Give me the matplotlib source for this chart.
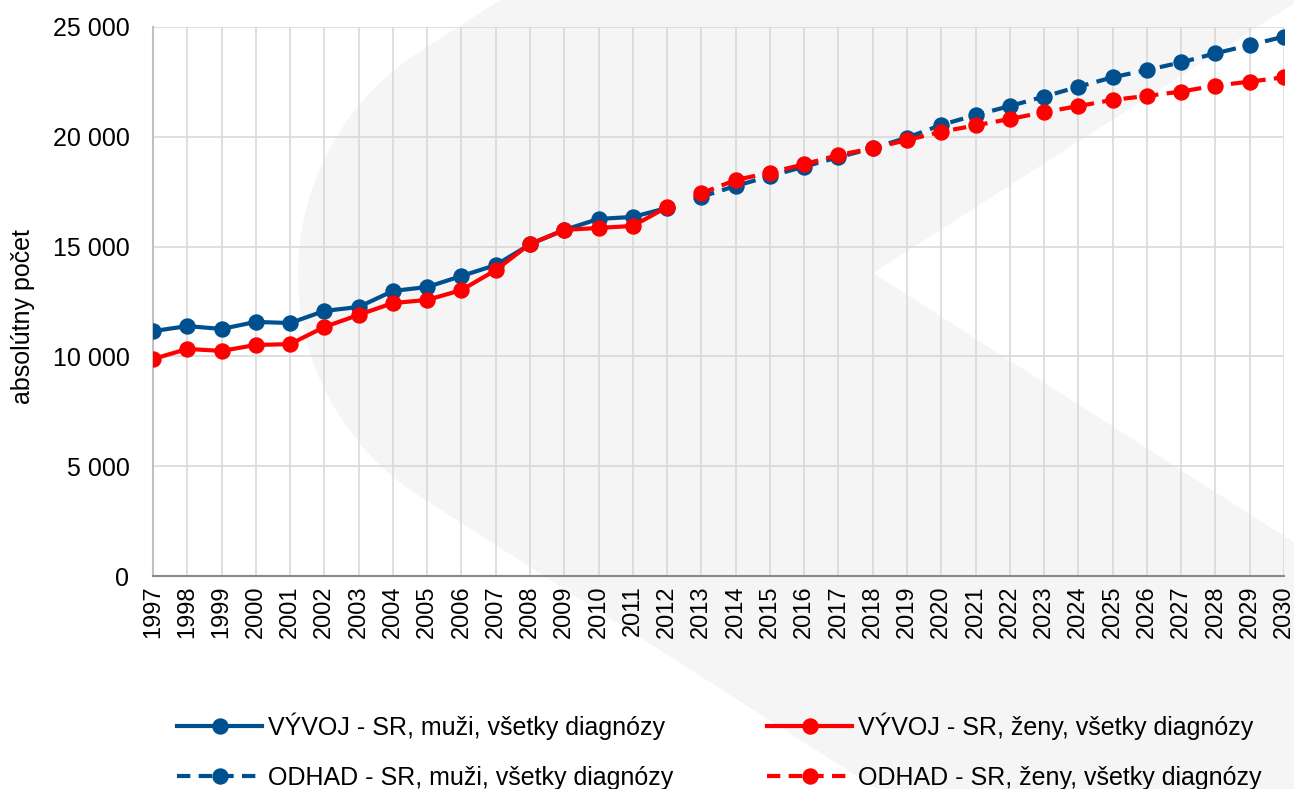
import matplotlib
matplotlib.use("Agg")
import matplotlib.pyplot as plt
from matplotlib.patches import Polygon
from matplotlib.ticker import FuncFormatter
import numpy as np

plt.rcParams['font.family'] = ['Liberation Sans', 'DejaVu Sans']

years_hist = list(range(1997, 2013))
years_fc = list(range(2013, 2031))

men_hist = [11150, 11380, 11250, 11570, 11520, 12070, 12250, 12980, 13160, 13660,
            14160, 15100, 15760, 16260, 16350, 16760]
women_hist = [9880, 10340, 10250, 10520, 10560, 11340, 11890, 12430, 12570, 13020,
              13930, 15120, 15760, 15850, 15940, 16800]
men_fc = [17270, 17760, 18210, 18640, 19070, 19480, 19960, 20540, 20990, 21400,
          21830, 22280, 22710, 23040, 23390, 23800, 24180, 24560]
women_fc = [17430, 18030, 18370, 18750, 19170, 19480, 19850, 20230, 20520, 20810,
            21120, 21400, 21680, 21860, 22060, 22330, 22510, 22710]

labels = ["VÝVOJ - SR, muži, všetky diagnózy",
          "ODHAD - SR, muži, všetky diagnózy",
          "VÝVOJ - SR, ženy, všetky diagnózy",
          "ODHAD - SR, ženy, všetky diagnózy"]
ylabel = "absolútny počet"

BLUE = '#00508f'
RED = '#ff0000'
W, H = 1294, 789

fig = plt.figure(figsize=(W / 100, H / 100), dpi=100)
fig.patch.set_facecolor('white')

# background watermark: rounded chevron with a notch (pixel coords, y from top)
cx, cy, r = 562.0, 274.0, 264.0
slope = 0.64
theta = np.arctan(slope)
arc = []
for a in np.linspace(0, 1, 60):
    phi = (np.pi / 2 + theta) + a * (np.pi - 2 * theta)
    arc.append((cx + r * np.cos(phi), cy - r * np.sin(phi)))
x_top = arc[0][0] + (arc[0][1] + 5) / slope
x_bot = arc[-1][0] + (795 - arc[-1][1]) / slope
tip = (873, 273)
pts = [(x_top, -5)] + arc + [(x_bot, 795), (1300, 795),
       (1300, tip[1] + slope * (1300 - tip[0])), tip,
       (1300, tip[1] - slope * (1300 - tip[0])), (1300, -5)]
poly = Polygon([(x / W, 1 - y / H) for x, y in pts], closed=True,
               transform=fig.transFigure, facecolor='#f5f5f5', edgecolor='none', zorder=-10)
fig.patches.append(poly)

ax = fig.add_axes([153 / W, 1 - 576 / H, (1284 - 153) / W, (576 - 27) / H])
ax.patch.set_visible(False)

lw = 3.0
ms = 10.8
dash = (3.2, 2.0)
l1, = ax.plot(years_hist, men_hist, color=BLUE, lw=lw, marker='o', ms=ms, zorder=3)
l3, = ax.plot(years_hist, women_hist, color=RED, lw=lw, marker='o', ms=ms, zorder=4)
l2, = ax.plot(years_fc, men_fc, color=BLUE, lw=lw, marker='o', ms=ms, zorder=5,
              dashes=dash)
l4, = ax.plot(years_fc, women_fc, color=RED, lw=lw, marker='o', ms=ms, zorder=6,
              dashes=dash)

ax.set_xlim(1997, 2030)
ax.set_ylim(0, 25000)
ax.set_xticks(range(1997, 2031))
ax.set_xticklabels([str(y) for y in range(1997, 2031)], rotation=90, fontsize=17)
ax.set_yticks(range(0, 25001, 5000))
ax.yaxis.set_major_formatter(FuncFormatter(lambda v, p: f"{int(v):,}".replace(',', ' ')))
ax.tick_params(axis='y', labelsize=18, length=0, pad=17)
ax.tick_params(axis='x', length=0, pad=7)
ax.set_ylabel(ylabel, fontsize=18)
ax.yaxis.set_label_coords(-0.104, 0.472)

ax.grid(True, color='#d9d9d9', lw=1.2, zorder=0)
ax.set_axisbelow(True)
for s in ['top', 'right']:
    ax.spines[s].set_visible(False)
ax.spines['left'].set_color('#c0c0c0')
ax.spines['left'].set_linewidth(1.5)
ax.spines['bottom'].set_color('#888888')
ax.spines['bottom'].set_linewidth(1.5)

leg = fig.legend([l1, l2, l3, l4], labels, ncol=2, loc='center left',
                 bbox_to_anchor=(177 / W, 1 - 751 / H), frameon=False, fontsize=18,
                 handlelength=3.4, handletextpad=0.25, columnspacing=3.75,
                 labelspacing=1.05, borderpad=0, borderaxespad=0)

fig.savefig('out.png', dpi=100)
